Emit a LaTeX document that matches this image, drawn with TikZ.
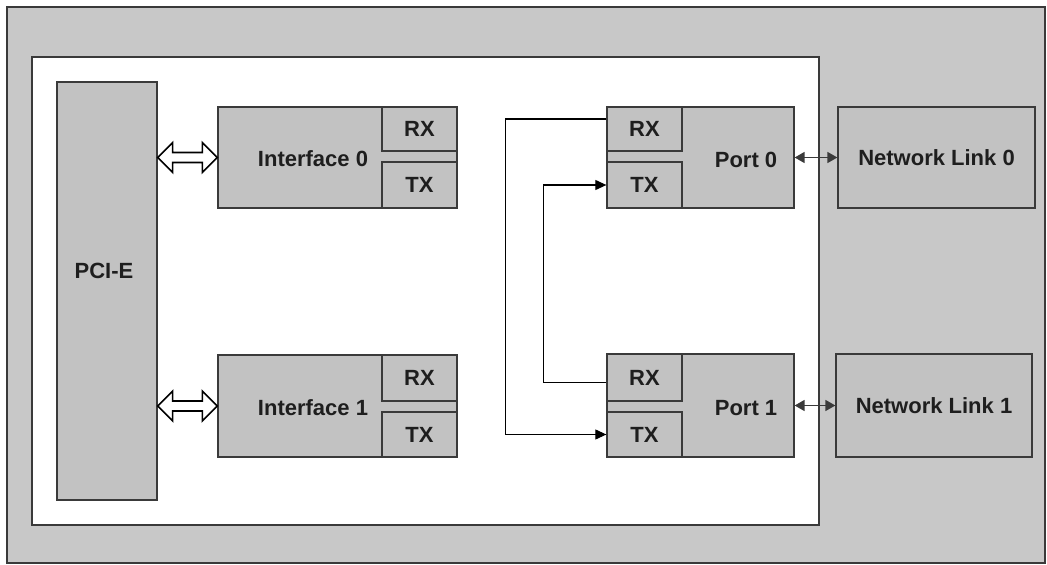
\documentclass[tikz,border=0pt]{standalone}
\usepackage{fontspec}
\setmainfont{Liberation Sans}
\usetikzlibrary{calc,arrows.meta}
\definecolor{boxg}{HTML}{C2C2C2}
\definecolor{bgg}{HTML}{C8C8C8}
\definecolor{linec}{HTML}{3A3A3A}
\definecolor{txtc}{HTML}{1E1E1E}
\begin{document}
\begin{tikzpicture}[x=1pt,y=-1pt,
  blk/.style={draw=linec, fill=boxg, line width=1.3pt, inner sep=0pt},
  lbl/.style={font=\bfseries\fontsize{22}{26}\selectfont, text=txtc, inner sep=0pt},
  harrow/.style={draw=black, fill=white, line width=1.6pt, line join=miter},
  link/.style={draw=black, line width=1.1pt, -{Triangle[length=11pt,width=10pt]}},
  netarrow/.style={draw=linec, line width=1.6pt, {Triangle[length=10pt,width=11pt]}-{Triangle[length=10pt,width=11pt]}}]
\useasboundingbox (0,0) rectangle (1047,565);
% backgrounds
\node[draw=linec, fill=bgg, line width=1.5pt, inner sep=0pt, minimum width=1038pt, minimum height=556pt] (outer) at (526,285) {};
\node[draw=linec, fill=white, line width=1.5pt, inner sep=0pt, minimum width=787pt, minimum height=468pt] (inner) at (425.5,291) {};
% PCI-E
\node[blk, minimum width=100pt, minimum height=418pt] (pcie) at (107,291) {};
\node[lbl] (pcietxt) at (104,271) {PCI-E};
% Interface 0
\node[blk, minimum width=239pt, minimum height=101pt] (if0) at (337.5,157.5) {};
\node[lbl] (if0txt) at (313,159) {Interface 0};
\node[blk, minimum width=75pt, minimum height=44pt] (rxi0) at (419.5,129) {};
\node[lbl] at (rxi0) {RX};
\node[blk, minimum width=75pt, minimum height=46pt] (txi0) at (419.5,185) {};
\node[lbl] at (txi0) {TX};
% Interface 1
\node[blk, minimum width=239pt, minimum height=102pt] (if1) at (337.5,406) {};
\node[lbl] (if1txt) at (313,408) {Interface 1};
\node[blk, minimum width=75pt, minimum height=46pt] (rxi1) at (419.5,378) {};
\node[lbl] at (rxi1) {RX};
\node[blk, minimum width=75pt, minimum height=45pt] (txi1) at (419.5,434.5) {};
\node[lbl] at (txi1) {TX};
% Port 0
\node[blk, minimum width=187pt, minimum height=101pt] (p0) at (700.5,157.5) {};
\node[lbl] (p0txt) at (746,160) {Port 0};
\node[blk, minimum width=75pt, minimum height=44pt] (rxp0) at (644.5,129) {};
\node[lbl] at (rxp0) {RX};
\node[blk, minimum width=75pt, minimum height=46pt] (txp0) at (644.5,185) {};
\node[lbl] at (txp0) {TX};
% Port 1
\node[blk, minimum width=187pt, minimum height=103pt] (p1) at (700.5,405.5) {};
\node[lbl] (p1txt) at (746,408) {Port 1};
\node[blk, minimum width=75pt, minimum height=47pt] (rxp1) at (644.5,377.5) {};
\node[lbl] at (rxp1) {RX};
\node[blk, minimum width=75pt, minimum height=45pt] (txp1) at (644.5,434.5) {};
\node[lbl] at (txp1) {TX};
% Network links
\node[blk, minimum width=197pt, minimum height=101pt] (nl0) at (936.5,157.5) {};
\node[lbl] at (nl0) {Network Link 0};
\node[blk, minimum width=196pt, minimum height=103pt] (nl1) at (934,405.5) {};
\node[lbl] at (nl1) {Network Link 1};
% hollow double arrows
\coordinate (a0) at (pcie.east |- if0.west);
\coordinate (b0) at (if0.west);
\draw[harrow] (a0) -- ($(a0)+(15,-15)$) -- ($(a0)+(15,-5)$) -- ($(b0)+(-15,-5)$) -- ($(b0)+(-15,-15)$) -- (b0)
  -- ($(b0)+(-15,15)$) -- ($(b0)+(-15,5)$) -- ($(a0)+(15,5)$) -- ($(a0)+(15,15)$) -- cycle;
\coordinate (a1) at (pcie.east |- if1.west);
\coordinate (b1) at (if1.west);
\draw[harrow] (a1) -- ($(a1)+(15,-15)$) -- ($(a1)+(15,-5)$) -- ($(b1)+(-15,-5)$) -- ($(b1)+(-15,-15)$) -- (b1)
  -- ($(b1)+(-15,15)$) -- ($(b1)+(-15,5)$) -- ($(a1)+(15,5)$) -- ($(a1)+(15,15)$) -- cycle;
% port to network links
\draw[netarrow] (p0.east) -- (nl0.west |- p0.east);
\draw[netarrow] (p1.east) -- (nl1.west |- p1.east);
% crossing links
\draw[link] ($(rxp0.west)+(0,-10)$) -- ++(-101,0) |- (txp1.west);
\draw[link] ($(rxp1.west)+(0,5)$) -- ++(-63,0) |- (txp0.west);
\end{tikzpicture}
\end{document}
